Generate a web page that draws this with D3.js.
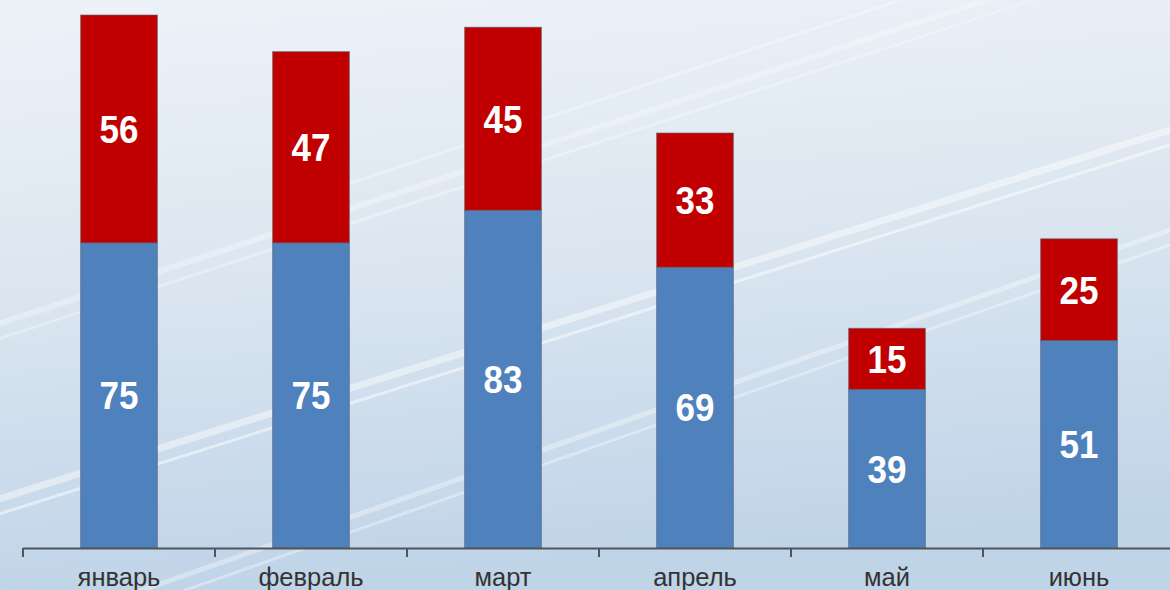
<!DOCTYPE html>
<html><head><meta charset="utf-8">
<script src="https://cdn.jsdelivr.net/npm/d3@7"></script>
<style>html,body{margin:0;padding:0;overflow:hidden;}svg{display:block;}</style>
</head><body><svg id="c" width="1170" height="590"></svg>
<script>
const categories = ["январь","февраль","март","апрель","май","июнь"];
const blueValues = [75,75,83,69,39,51];
const redValues = [56,47,45,33,15,25];

const W = 1170, H = 590;
const svg = d3.select("#c");
const defs = svg.append("defs");
const bg = defs.append("linearGradient").attr("id","bg").attr("x1",0).attr("y1",0).attr("x2",0.15).attr("y2",1);
bg.append("stop").attr("offset","0%").attr("stop-color","#edf2f8");
bg.append("stop").attr("offset","45%").attr("stop-color","#dde7f1");
bg.append("stop").attr("offset","100%").attr("stop-color","#c0d4e8");
svg.append("rect").attr("width",W).attr("height",H).attr("fill","url(#bg)");

// decorative light streaks
const streaks = [
  [[-20,330],[1170,-60],6,0.3],
  [[-20,345],[1170,-45],3,0.3],
  [[-20,505],[1170,130],7,0.45],
  [[-20,520],[1170,145],3,0.5],
  [[0,640],[1170,230],5,0.35],
  [[0,655],[1170,245],3,0.35],
  [[300,200],[900,0],3,0.3]
];
const sg = svg.append("g");
streaks.forEach(s=>{
  sg.append("line").attr("x1",s[0][0]).attr("y1",s[0][1]).attr("x2",s[1][0]).attr("y2",s[1][1])
    .attr("stroke","#ffffff").attr("stroke-width",s[2]).attr("opacity",s[3]).attr("stroke-linecap","round");
});

const x = d3.scaleBand().domain(categories).range([23,1175]).paddingInner(0.6).paddingOuter(0.3);
const y = d3.scaleLinear().domain([0,131]).range([548,15]);

const data = categories.map((c,i)=>({cat:c, blue:blueValues[i], red:redValues[i]}));
const stack = d3.stack().keys(["blue","red"])(data);
const colors = {blue:"#4f81bd", red:"#c00000"};

const g = svg.append("g");
stack.forEach(layer=>{
  g.selectAll(null).data(layer).enter().append("rect")
    .attr("x",d=>x(d.data.cat))
    .attr("width",x.bandwidth())
    .attr("y",d=>y(d[1]))
    .attr("height",d=>y(d[0])-y(d[1]))
    .attr("fill",colors[layer.key])
    .attr("stroke","rgba(90,100,110,0.6)")
    .attr("stroke-width",1);
  g.selectAll(null).data(layer).enter().append("text")
    .attr("transform",d=>`translate(${x(d.data.cat)+x.bandwidth()/2},${(y(d[0])+y(d[1]))/2}) scale(1,1.1)`)
    .attr("dy","0.36em")
    .attr("text-anchor","middle")
    .attr("font-family","Liberation Sans, Arial, sans-serif")
    .attr("font-weight","bold")
    .attr("font-size",35)
    .attr("fill","#ffffff")
    .text(d=>d.data[layer.key]);
});

// axis
const axisScale = d3.scalePoint().domain(d3.range(7)).range([23,1175]);
const ax = svg.append("g");
ax.append("line").attr("x1",23).attr("x2",1170).attr("y1",548.5).attr("y2",548.5)
  .attr("stroke","#50555c").attr("stroke-width",2);
ax.selectAll(null).data(d3.range(7)).enter().append("line")
  .attr("x1",d=>axisScale(d)).attr("x2",d=>axisScale(d))
  .attr("y1",548).attr("y2",557).attr("stroke","#50555c").attr("stroke-width",2);
ax.selectAll(null).data(categories).enter().append("text")
  .attr("x",d=>x(d)+x.bandwidth()/2)
  .attr("y",586)
  .attr("text-anchor","middle")
  .attr("font-family","Liberation Sans, Arial, sans-serif")
  .attr("font-size",25.5)
  .attr("fill","#333333")
  .text(d=>d);
</script>
</body></html>
